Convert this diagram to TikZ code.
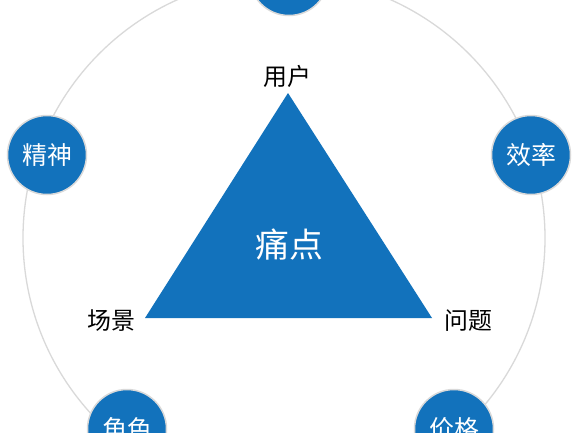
\documentclass[tikz,border=0pt]{standalone}
\usepackage{fontspec}
\newfontfamily\cjk{Noto Sans CJK SC}
\definecolor{mainblue}{RGB}{18,114,188}
\definecolor{ringgray}{RGB}{217,217,217}
\begin{document}
\begin{tikzpicture}[x=1bp,y=-1bp,
  ball/.style={circle,fill=mainblue,draw=ringgray,line width=1.5bp,minimum size=79bp,inner sep=0pt,text=white,font=\cjk\fontsize{25}{27}\selectfont},
  lbl/.style={font=\cjk\fontsize{24}{26}\selectfont,text=black,inner sep=0pt}]
\useasboundingbox (0,0) rectangle (576,432);
\clip (0,0) rectangle (576,432);
\fill[white] (0,0) rectangle (576,432);
\node[circle,draw=ringgray,line width=1.3bp,minimum size=522bp,inner sep=0pt] (big) at (284,238) {};
\node[ball] (top) at (289,-24) {};
\node[ball] (jingshen) at (47,155) {精神};
\node[ball] (xiaolv) at (531,155) {效率};
\node[ball] (juese) at (127,429) {角色};
\node[ball] (jiage) at (454,429) {价格};
\coordinate (apex) at (288,93);
\coordinate (bl) at (145,318);
\coordinate (br) at (432,318);
\fill[mainblue] (apex) -- (bl) -- (br) -- cycle;
\node[text=white,font=\cjk\fontsize{34}{36}\selectfont,inner sep=0pt] (tongdian) at (289,245) {痛点};
\node[lbl] (yonghu) at (287,76) {用户};
\node[lbl] (changjing) at (111,321) {场景};
\node[lbl] (wenti) at (468,321) {问题};
\end{tikzpicture}
\end{document}
